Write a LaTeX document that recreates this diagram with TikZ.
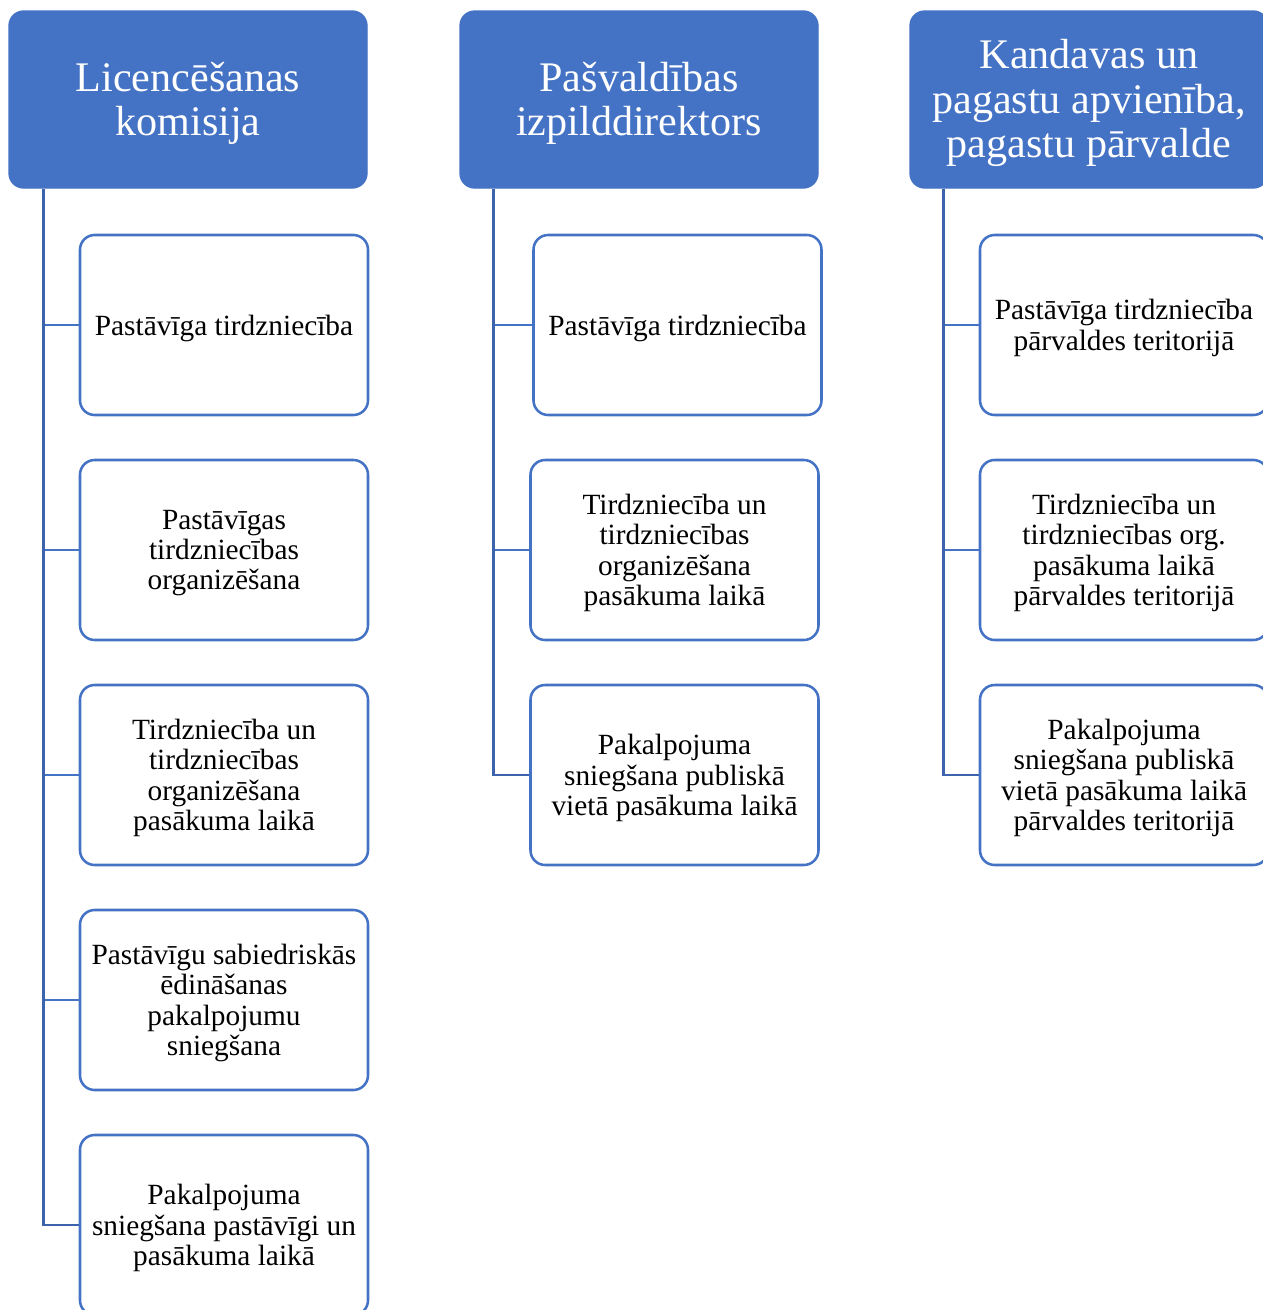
\documentclass[tikz,border=0pt]{standalone}
\usepackage{fontspec}
\setmainfont{Liberation Serif}
\usetikzlibrary{calc}
\definecolor{hdr}{HTML}{4472C4}
\definecolor{trk}{HTML}{3C64AC}
\newcommand\hdrnode[4]{%
  \node[hdrbox] (#1) at (#2,#3) {};
  \node[hdrtext] at ([yshift=-2.8pt]#1.center) {#4};}
\newcommand\itemnode[4]{%
  \node[itembox] (#1) at (#2,#3) {};
  \node[itemtext] at ([yshift=-2.25pt]#1.center) {#4};}
\begin{document}
\begin{tikzpicture}[x=0.75pt,y=-0.75pt,
  hdrbox/.style={draw=hdr, fill=hdr, line width=1pt, rounded corners=11pt,
    minimum width=268.5pt, minimum height=132.75pt, inner sep=0pt},
  hdrtext/.style={text=white, align=center,
    font=\fontsize{31.6}{33.4}\selectfont, inner sep=0pt},
  itembox/.style={draw=hdr, fill=white, line width=1.9pt, rounded corners=11pt,
    minimum width=216pt, minimum height=135pt, inner sep=0pt},
  itemtext/.style={align=center, font=\fontsize{22}{22.6}\selectfont, inner sep=0pt},
  trunk/.style={draw=trk, line width=2.2pt},
  branch/.style={draw=hdr, line width=1.9pt}]
\clip (0,0) rectangle (1263,1310);
\fill[white] (0,0) rectangle (1263,1310);

% headers
\hdrnode{h1}{188}{99.5}{Licencēšanas\\komisija}
\hdrnode{h2}{639}{99.5}{Pašvaldības\\izpilddirektors}
\hdrnode{h3}{1089}{99.5}{Kandavas un\\pagastu apvienība,\\pagastu pārvalde}

% column 1
\itemnode{a1}{224}{325}{Pastāvīga tirdzniecība}
\itemnode{a2}{224}{550}{Pastāvīgas\\tirdzniecības\\organizēšana}
\itemnode{a3}{224}{775}{Tirdzniecība un\\tirdzniecības\\organizēšana\\pasākuma laikā}
\itemnode{a4}{224}{1000}{Pastāvīgu sabiedriskās\\ēdināšanas\\pakalpojumu\\sniegšana}
\itemnode{a5}{224}{1225}{Pakalpojuma\\sniegšana pastāvīgi un\\pasākuma laikā}

% column 2
\itemnode{b1}{677.5}{325}{Pastāvīga tirdzniecība}
\itemnode{b2}{674.5}{550}{Tirdzniecība un\\tirdzniecības\\organizēšana\\pasākuma laikā}
\itemnode{b3}{674.5}{775}{Pakalpojuma\\sniegšana publiskā\\vietā pasākuma laikā}

% column 3
\itemnode{c1}{1124}{325}{Pastāvīga tirdzniecība\\pārvaldes teritorijā}
\itemnode{c2}{1124}{550}{Tirdzniecība un\\tirdzniecības org.\\pasākuma laikā\\pārvaldes teritorijā}
\itemnode{c3}{1124}{775}{Pakalpojuma\\sniegšana publiskā\\vietā pasākuma laikā\\pārvaldes teritorijā}

% trunks
\coordinate (t1) at ($(h1.south west)+(35,0)$);
\coordinate (t2) at ($(h2.south west)+(34,0)$);
\coordinate (t3) at ($(h3.south west)+(34,0)$);

\foreach \n in {a1,a2,a3,a4}{\draw[branch] (\n.west -| t1) -- (\n.west);}
\foreach \n in {b1,b2}{\draw[branch] (\n.west -| t2) -- (\n.west);}
\foreach \n in {c1,c2}{\draw[branch] (\n.west -| t3) -- (\n.west);}

\draw[trunk] (t1) |- (a5.west);
\draw[trunk] (t2) |- (b3.west);
\draw[trunk] (t3) |- (c3.west);
\end{tikzpicture}
\end{document}
